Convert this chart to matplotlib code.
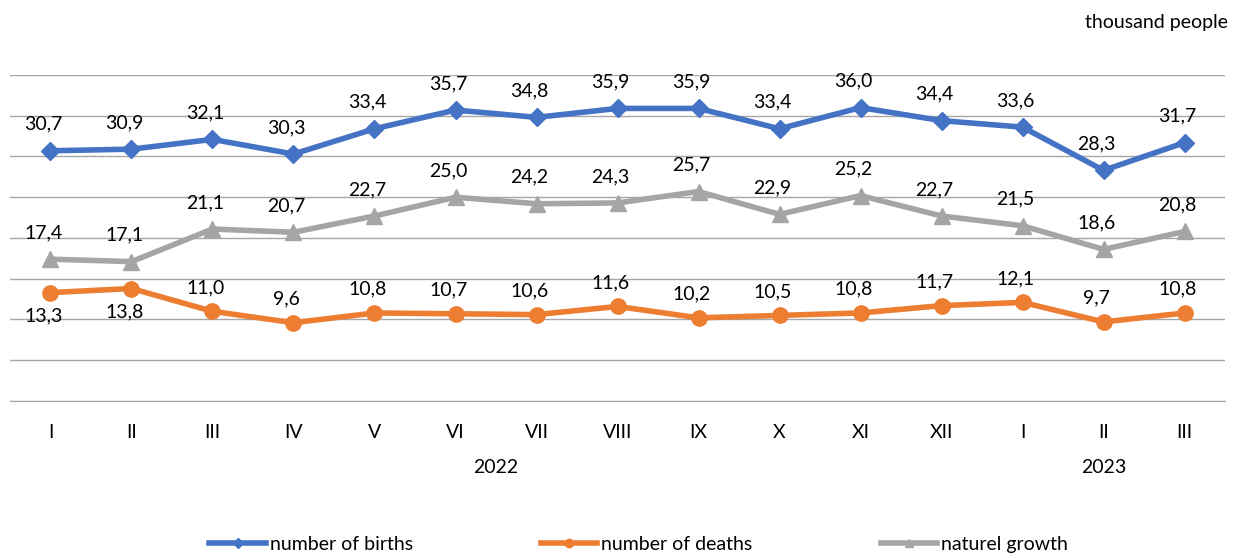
import matplotlib
matplotlib.use("Agg")
import matplotlib.pyplot as plt
import numpy as np

months = ["I", "II", "III", "IV", "V", "VI", "VII", "VIII", "IX", "X", "XI", "XII", "I", "II", "III"]
years = ["2022", "2023"]
births = [30.7, 30.9, 32.1, 30.3, 33.4, 35.7, 34.8, 35.9, 35.9, 33.4, 36.0, 34.4, 33.6, 28.3, 31.7]
deaths = [13.3, 13.8, 11.0, 9.6, 10.8, 10.7, 10.6, 11.6, 10.2, 10.5, 10.8, 11.7, 12.1, 9.7, 10.8]
growth = [17.4, 17.1, 21.1, 20.7, 22.7, 25.0, 24.2, 24.3, 25.7, 22.9, 25.2, 22.7, 21.5, 18.6, 20.8]

plt.rcParams['font.family'] = ['Lato', 'DejaVu Sans']
FS = 14

fig = plt.figure(figsize=(12.45, 5.58), dpi=100)
ax = fig.add_axes([0.008, 0.2814, 0.976, 0.5842])
x = np.arange(len(months))
ax.set_xlim(-0.5, len(months) - 0.5)
ax.set_ylim(0, 40)
ax.set_yticks(np.arange(0, 41, 5))
ax.yaxis.grid(True, color="#A6A6A6", linewidth=1.0)
ax.set_axisbelow(True)
for s in ["left", "right", "top"]:
    ax.spines[s].set_visible(False)
ax.spines["bottom"].set_color("#A6A6A6")
ax.tick_params(axis="y", left=False, labelleft=False)
ax.tick_params(axis="x", bottom=False, pad=13, labelsize=FS)
ax.set_xticks(x)
ax.set_xticklabels(months)

blue, orange, gray = "#4472C4", "#ED7D31", "#A5A5A5"
ax.plot(x, births, color=blue, lw=4, marker="D", ms=9, label="number of births", zorder=3)
ax.plot(x, deaths, color=orange, lw=4, marker="o", ms=11, label="number of deaths", zorder=3)
ax.plot(x, growth, color=gray, lw=4, marker="^", ms=11, label="naturel growth", zorder=3)

def fmt(v):
    return f"{v:.1f}".replace(".", ",")

for i, v in enumerate(births):
    ax.annotate(fmt(v), (x[i], v), xytext=(-5, 13), textcoords="offset points",
                ha="center", va="bottom", fontsize=FS)
for i, v in enumerate(growth):
    ax.annotate(fmt(v), (x[i], v), xytext=(-5, 13), textcoords="offset points",
                ha="center", va="bottom", fontsize=FS)
for i, v in enumerate(deaths):
    if i < 2:
        ax.annotate(fmt(v), (x[i], v), xytext=(-5, -11), textcoords="offset points",
                    ha="center", va="top", fontsize=FS)
    else:
        ax.annotate(fmt(v), (x[i], v), xytext=(-5, 11), textcoords="offset points",
                    ha="center", va="bottom", fontsize=FS)

# year labels
ax.text((0 + 11) / 2, -0.205, years[0], transform=ax.get_xaxis_transform(), ha="center", va="center", fontsize=FS)
ax.text((12 + 14) / 2, -0.205, years[1], transform=ax.get_xaxis_transform(), ha="center", va="center", fontsize=FS)

fig.text(0.986, 0.96, "thousand people", ha="right", va="center", fontsize=FS)

leg = fig.legend(loc="center", bbox_to_anchor=(0.513, 0.024), ncol=3, frameon=False,
                 fontsize=FS, handlelength=2.9, columnspacing=6.6, handletextpad=0.2, markerscale=0.55)

fig.savefig("out.png", dpi=100)
